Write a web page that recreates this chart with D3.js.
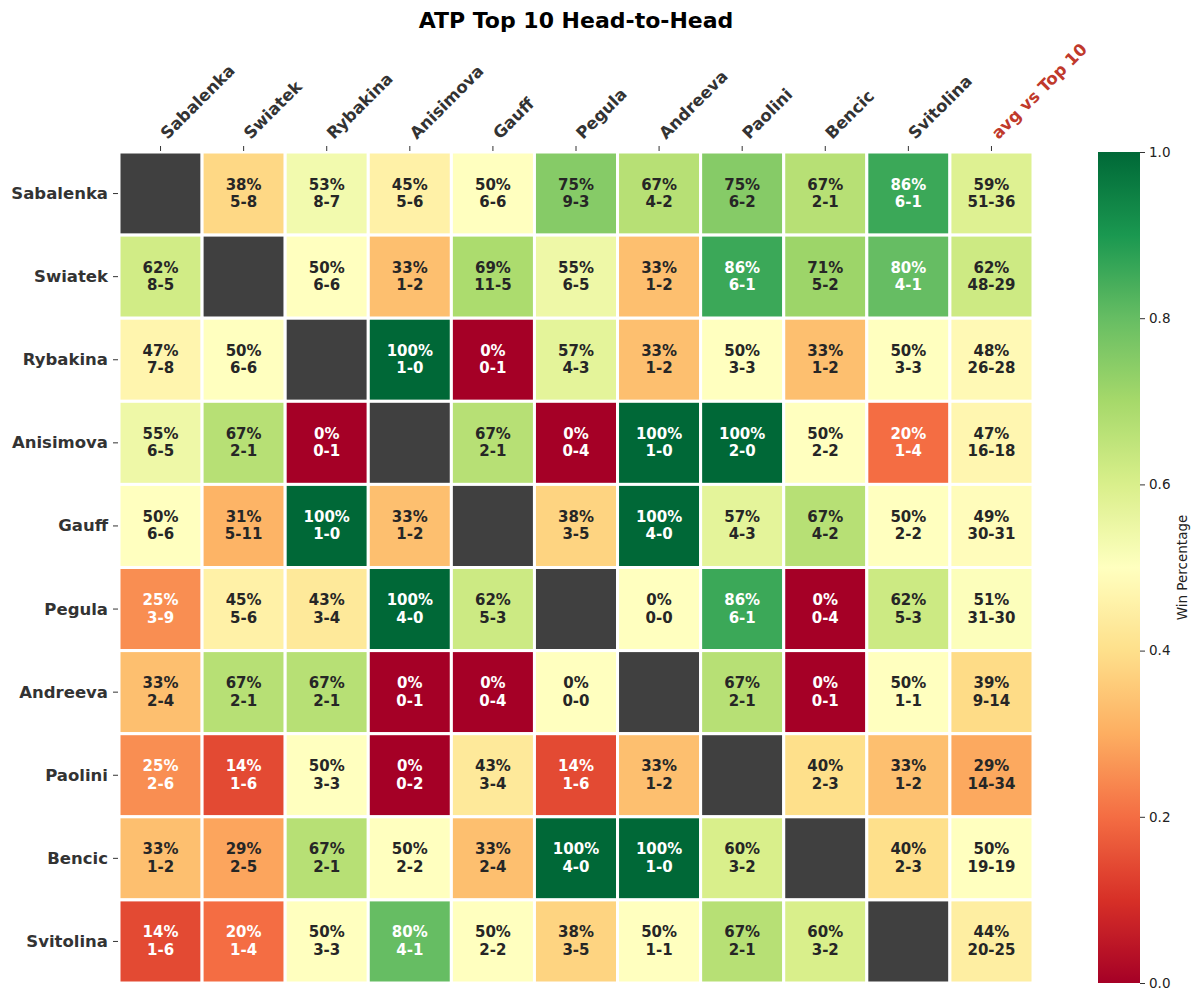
<!DOCTYPE html>
<html>
<head>
<meta charset="utf-8">
<script src="https://cdn.jsdelivr.net/npm/d3@7"></script>
<style>
  html, body { margin: 0; padding: 0; background: #fff; }
  svg { display: block; font-family: "DejaVu Sans", sans-serif; }
</style>
</head>
<body>
<svg id="chart" width="1200" height="1002"></svg>
<script>
// ---- Data ----
const players = ["Sabalenka", "Swiatek", "Rybakina", "Anisimova", "Gauff", "Pegula", "Andreeva", "Paolini", "Bencic", "Svitolina"];
const avgLabel = "avg vs Top 10";

// wins[row][col] = matches won by row player vs column player (null = self)
const wins = [
  [null, 5, 8, 5, 6, 9, 4, 6, 2, 6],
  [8, null, 6, 1, 11, 6, 1, 6, 5, 4],
  [7, 6, null, 1, 0, 4, 1, 3, 1, 3],
  [6, 2, 0, null, 2, 0, 1, 2, 2, 1],
  [6, 5, 1, 1, null, 3, 4, 4, 4, 2],
  [3, 5, 3, 4, 5, null, 0, 6, 0, 5],
  [2, 2, 2, 0, 0, 0, null, 2, 0, 1],
  [2, 1, 3, 0, 3, 1, 1, null, 2, 1],
  [1, 2, 2, 2, 2, 4, 1, 3, null, 2],
  [1, 1, 3, 4, 2, 3, 1, 2, 3, null]
];
const losses = [
  [null, 8, 7, 6, 6, 3, 2, 2, 1, 1],
  [5, null, 6, 2, 5, 5, 2, 1, 2, 1],
  [8, 6, null, 0, 1, 3, 2, 3, 2, 3],
  [5, 1, 1, null, 1, 4, 0, 0, 2, 4],
  [6, 11, 0, 2, null, 5, 0, 3, 2, 2],
  [9, 6, 4, 0, 3, null, 0, 1, 4, 3],
  [4, 1, 1, 1, 4, 0, null, 1, 1, 1],
  [6, 6, 3, 2, 4, 6, 2, null, 3, 2],
  [2, 5, 1, 2, 4, 0, 0, 2, null, 3],
  [6, 4, 3, 1, 2, 5, 1, 1, 2, null]
];
const avgWins   = [51, 48, 26, 16, 30, 31, 9, 14, 19, 20];
const avgLosses = [36, 29, 28, 18, 31, 30, 14, 34, 19, 25];

const cbTicks = [0.0, 0.2, 0.4, 0.6, 0.8, 1.0];

(function () {
// ---- Layout ----
const svg = d3.select("#chart");
const L = 119, R = 1033, T = 152, B = 983;
const columns = players.concat([avgLabel]);

const x = d3.scaleBand().domain(columns).range([L, R]);
const y = d3.scaleBand().domain(players).range([T, B]);

// matplotlib RdYlGn (linear segmented through the 11 anchor colours)
const rdylgn = ["#a50026","#d73027","#f46d43","#fdae61","#fee08b","#ffffbf","#d9ef8b","#a6d96a","#66bd63","#1a9850","#006837"];
const color = d3.scaleLinear().domain(d3.range(11).map(i => i / 10)).range(rdylgn).interpolate(d3.interpolateRgb).clamp(true);

function lum(c) {
  const rgb = d3.rgb(c);
  const f = v => { v /= 255; return v <= 0.03928 ? v / 12.92 : Math.pow((v + 0.055) / 1.055, 2.4); };
  return 0.2126 * f(rgb.r) + 0.7152 * f(rgb.g) + 0.0722 * f(rgb.b);
}
// round half to even (like Python's format)
function roundEven(v) {
  const f = Math.floor(v), diff = v - f;
  if (Math.abs(diff - 0.5) < 1e-9) return (f % 2 === 0) ? f : f + 1;
  return Math.round(v);
}

// build cells
const cells = [];
players.forEach((p, i) => {
  columns.forEach((c, j) => {
    let w, l;
    if (j < players.length) { w = wins[i][j]; l = losses[i][j]; }
    else { w = avgWins[i]; l = avgLosses[i]; }
    if (w === null) { cells.push({ row: p, col: c, diag: true }); return; }
    const n = w + l;
    const pct = n > 0 ? w / n : 0;
    const cv = n > 0 ? pct : 0.5;
    cells.push({ row: p, col: c, diag: false, w, l, pct, cv });
  });
});

// title
svg.append("text")
  .attr("x", (L + R) / 2).attr("y", 28)
  .attr("text-anchor", "middle")
  .attr("font-size", 22).attr("font-weight", "bold").attr("fill", "#000")
  .text("ATP Top 10 Head-to-Head");

// cells
const g = svg.append("g");
g.selectAll("rect.cell").data(cells).join("rect")
  .attr("class", "cell")
  .attr("x", d => x(d.col)).attr("y", d => y(d.row))
  .attr("width", x.bandwidth()).attr("height", y.bandwidth())
  .attr("fill", d => d.diag ? "#404040" : color(d.cv))
  .attr("stroke", "#fff").attr("stroke-width", 3);

// annotations
const ann = g.selectAll("text.ann").data(cells.filter(d => !d.diag)).join("text")
  .attr("class", "ann")
  .attr("text-anchor", "middle")
  .attr("font-size", 15).attr("font-weight", "bold")
  .attr("fill", d => lum(color(d.cv)) > 0.408 ? "#262626" : "#ffffff");
ann.append("tspan")
  .attr("x", d => x(d.col) + x.bandwidth() / 2)
  .attr("y", d => y(d.row) + y.bandwidth() / 2 - 4)
  .text(d => roundEven(d.pct * 100) + "%");
ann.append("tspan")
  .attr("x", d => x(d.col) + x.bandwidth() / 2)
  .attr("y", d => y(d.row) + y.bandwidth() / 2 + 13.5)
  .text(d => d.w + "-" + d.l);

// row labels + ticks
const rowG = svg.append("g");
players.forEach(p => {
  const py = y(p) + y.bandwidth() / 2;
  rowG.append("line").attr("x1", L - 6).attr("x2", L - 1).attr("y1", py).attr("y2", py)
    .attr("stroke", "#333").attr("stroke-width", 1);
  rowG.append("text").attr("x", L - 11).attr("y", py)
    .attr("text-anchor", "end").attr("dominant-baseline", "central")
    .attr("font-size", 16.5).attr("font-weight", "bold").attr("fill", "#333")
    .text(p);
});

// column labels + ticks
const colG = svg.append("g");
columns.forEach(c => {
  const px = x(c) + x.bandwidth() / 2;
  colG.append("line").attr("x1", px).attr("x2", px).attr("y1", T - 6).attr("y2", T - 1)
    .attr("stroke", "#333").attr("stroke-width", 1);
  colG.append("text")
    .attr("transform", `translate(${px + 7},${T - 12}) rotate(-45)`)
    .attr("text-anchor", "start")
    .attr("font-size", 16.5).attr("font-weight", "bold")
    .attr("fill", c === avgLabel ? "#c0392b" : "#333")
    .text(c);
});

// colorbar
const cbx = 1098, cbw = 42;
const cscale = d3.scaleLinear().domain([0, 1]).range([B, T]);
const defs = svg.append("defs");
const grad = defs.append("linearGradient").attr("id", "cbgrad")
  .attr("x1", 0).attr("y1", 1).attr("x2", 0).attr("y2", 0);
d3.range(0, 1.0001, 0.02).forEach(t => {
  grad.append("stop").attr("offset", t).attr("stop-color", color(t));
});
svg.append("rect").attr("x", cbx).attr("y", T).attr("width", cbw).attr("height", B - T)
  .attr("fill", "url(#cbgrad)");
const cbAxis = d3.axisRight(cscale).tickValues(cbTicks).tickFormat(d3.format(".1f")).tickSize(5).tickPadding(4);
const cbG = svg.append("g").attr("transform", `translate(${cbx + cbw},0)`).call(cbAxis);
cbG.select(".domain").remove();
cbG.selectAll("text").attr("font-size", 13.5).attr("fill", "#222").attr("font-family", "DejaVu Sans, sans-serif");
cbG.selectAll("line").attr("stroke", "#333");
svg.append("text")
  .attr("transform", `translate(1187,${(T + B) / 2}) rotate(-90)`)
  .attr("text-anchor", "middle")
  .attr("font-size", 13.5).attr("fill", "#222")
  .text("Win Percentage");
})();
</script>
</body>
</html>
